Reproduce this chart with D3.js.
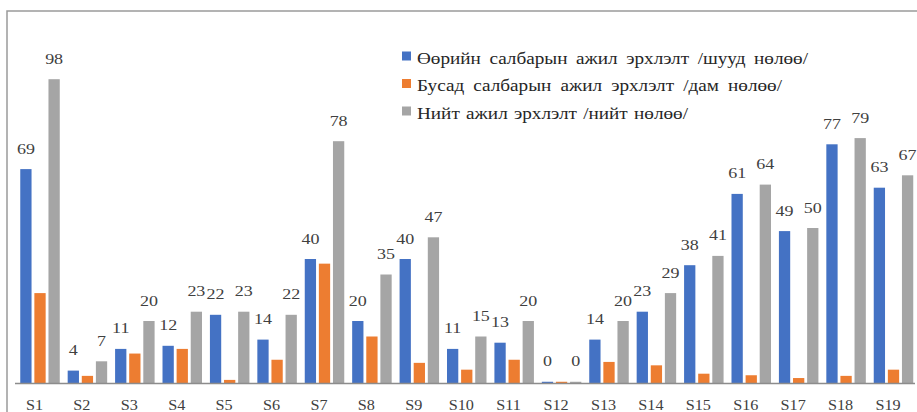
<!DOCTYPE html>
<html>
<head>
<meta charset="utf-8">
<script src="https://cdn.jsdelivr.net/npm/d3@7"></script>
<style>
  body { margin: 0; background: #fff; }
</style>
</head>
<body>
<div id="chart"></div>
<script>
// categories and series
const categories = ["S1", "S2", "S3", "S4", "S5", "S6", "S7", "S8", "S9", "S10",
  "S11", "S12", "S13", "S14", "S15", "S16", "S17", "S18", "S19"];
const direct = [69, 4, 11, 12, 22, 14, 40, 20, 40, 11, 13, 0.4, 14, 23, 38, 61, 49, 77, 63];
const indirect = [29, 2.3, 9.5, 11, 1, 7.5, 38.5, 15, 6.5, 4.3, 7.5, 0.4, 6.8, 5.7, 3, 2.5, 1.6, 2.3, 4.3];
const total = [98, 7, 20, 23, 23, 22, 78, 35, 47, 15, 20, 0.4, 20, 29, 41, 64, 50, 79, 67];
const seriesNames = [
  "Өөрийн салбарын ажил эрхлэлт /шууд нөлөө/",
  "Бусад салбарын ажил эрхлэлт /дам нөлөө/",
  "Нийт ажил эрхлэлт /нийт нөлөө/"
];
const colors = ["#4472C4", "#ED7D31", "#A5A5A5"];
const labelled = [true, false, true];

const width = 917, height = 412;
const baseY = 383;
const serif = "'Liberation Serif', 'Times New Roman', serif";

const svg = d3.select("#chart")
  .append("svg")
  .attr("width", width)
  .attr("height", height);

// chart frame (left and top edges visible)
svg.append("path")
  .attr("d", `M7,${height} V11 H${width}`)
  .attr("fill", "none")
  .attr("stroke", "#9a9a9a")
  .attr("stroke-width", 1.5);

// scales
const x0 = d3.scaleBand()
  .domain(categories)
  .range([16.3, 917.2])
  .paddingInner(0.167)
  .paddingOuter(0.0835);

const x1 = d3.scaleBand()
  .domain(d3.range(3))
  .range([0, x0.bandwidth()])
  .paddingInner(0.2);

const y = d3.scaleLinear()
  .domain([0, 100])
  .range([baseY, baseY - 310]);

const series = [direct, indirect, total];

const groups = svg.selectAll(".group")
  .data(categories)
  .join("g")
  .attr("class", "group")
  .attr("transform", d => `translate(${x0(d)},0)`);

groups.selectAll("rect")
  .data((d, i) => series.map((s, k) => ({ k: k, v: s[i] })))
  .join("rect")
  .attr("x", d => x1(d.k))
  .attr("width", x1.bandwidth())
  .attr("y", d => y(d.v))
  .attr("height", d => baseY - y(d.v))
  .attr("fill", d => colors[d.k]);

// data labels for direct and total (the source picture is a bit stretched sideways)
groups.selectAll("text.val")
  .data((d, i) => series.map((s, k) => ({ k: k, v: s[i] })).filter(d => labelled[d.k]))
  .join("text")
  .attr("class", "val")
  .attr("transform", d => `translate(${x1(d.k) + x1.bandwidth() / 2},${y(d.v) - 15.5}) scale(1.2,1)`)
  .attr("text-anchor", "middle")
  .style("font-family", serif)
  .style("font-size", "15px")
  .attr("fill", "#404040")
  .text(d => Math.round(d.v));

// x axis
const xAxis = svg.append("g")
  .attr("transform", `translate(0,${baseY})`)
  .call(d3.axisBottom(x0).tickSize(0));

xAxis.select(".domain")
  .attr("d", `M15,0.5H915`)
  .attr("stroke", "#8c8c8c")
  .attr("stroke-width", 1.5);

xAxis.selectAll(".tick text")
  .style("font-family", serif)
  .style("font-size", "15px")
  .attr("fill", "#404040")
  .attr("transform", "translate(-5.5,27) scale(1.08,1)")
  .attr("x", 0)
  .attr("y", 0)
  .attr("dy", 0);

// legend
const legendEnds = [808, 782, 688];   // right edge of each legend line
const stretch = 1.2;
const legend = svg.append("g")
  .attr("transform", "translate(402,56)");

const item = legend.selectAll("g")
  .data(seriesNames)
  .join("g")
  .attr("transform", (d, i) => `translate(0,${i * 27.5})`);

item.append("rect")
  .attr("x", 0)
  .attr("y", -4.5)
  .attr("width", 9)
  .attr("height", 9)
  .attr("fill", (d, i) => colors[i]);

item.append("text")
  .attr("transform", `translate(15,7.5) scale(${stretch},1)`)
  .style("font-family", serif)
  .style("font-size", "16px")
  .attr("fill", "#262626")
  .text(d => d)
  .each(function (d, i) {
    // spread words so each line ends where the reference's does
    const natural = this.getComputedTextLength() * stretch;
    const gaps = d.split(" ").length - 1;
    const extra = (legendEnds[i] - 417 - natural) / gaps / stretch;
    d3.select(this).style("word-spacing", Math.max(0, extra) + "px");
  });
</script>
</body>
</html>
